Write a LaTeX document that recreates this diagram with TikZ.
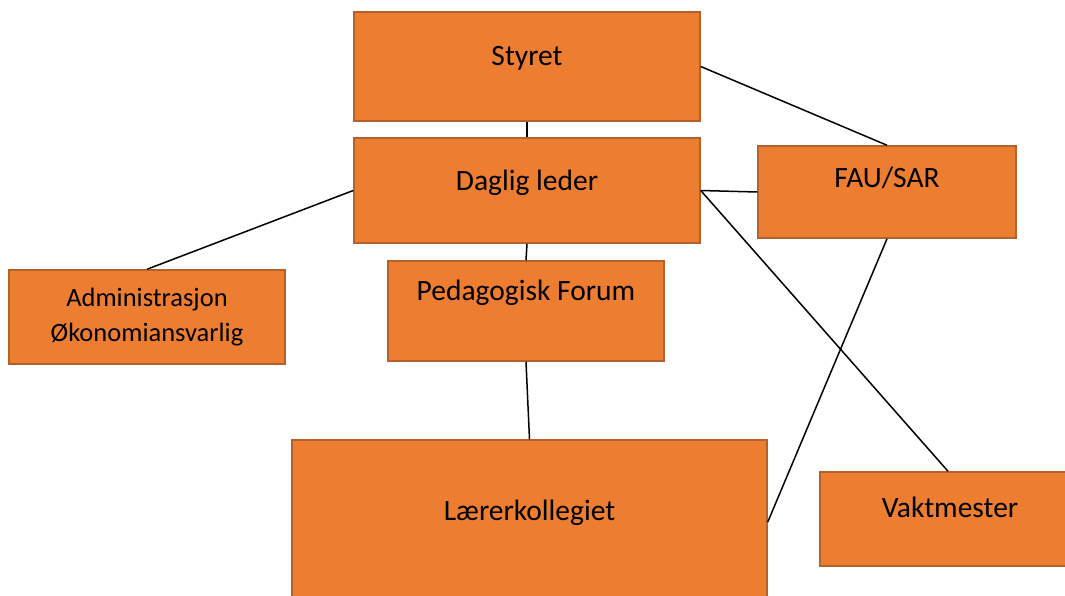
\documentclass[tikz,border=0pt]{standalone}
\usepackage{fontspec}
\setmainfont{Carlito}
\definecolor{boxfill}{HTML}{ED7D31}
\definecolor{boxline}{HTML}{B5622A}
\begin{document}
\begin{tikzpicture}[x=1pt,y=-1pt,
  orgbox/.style={draw=boxline, fill=boxfill, line width=1.5pt, rectangle, inner sep=0pt},
  orgtext/.style={font=\fontsize{29.5}{35}\selectfont, text=black, inner sep=0pt},
  conn/.style={draw=black, line width=1.5pt}]
\useasboundingbox (0,0) rectangle (1065,595);
\clip (0,0) rectangle (1065,595);
% boxes
\node[orgbox, minimum width=346pt, minimum height=109pt] (styret) at (527,66.5) {};
\node[orgbox, minimum width=346pt, minimum height=105pt] (daglig) at (527,190.5) {};
\node[orgbox, minimum width=258pt, minimum height=92pt] (fau) at (887,192) {};
\node[orgbox, minimum width=276pt, minimum height=94pt, align=center, font=\fontsize{26.5}{35}\selectfont] (admin) at (147,317) {Administrasjon\\Økonomiansvarlig};
\node[orgbox, minimum width=276pt, minimum height=100pt] (ped) at (526,311) {};
\node[orgbox, minimum width=475pt, minimum height=160pt] (laerer) at (529.5,520) {};
\node[orgbox, minimum width=266pt, minimum height=94pt] (vakt) at (953,519) {};
% texts
\node[orgtext] (tstyret) at (527,58.5) {Styret};
\node[orgtext] (tdaglig) at (527,183) {Daglig leder};
\node[orgtext] (tfau) at (887,177.5) {FAU/SAR};
\node[orgtext] (tped) at (526,293) {Pedagogisk Forum};
\node[orgtext] (tlaerer) at (529.5,512.5) {Lærerkollegiet};
\node[orgtext] (tvakt) at (950,507.5) {Vaktmester};
% connectors
\draw[conn] (styret.south) -- (daglig.north);
\draw[conn] (daglig.south) -- (ped.north);
\draw[conn] (ped.south) -- (laerer.north);
\draw[conn] (daglig.west) -- (admin.north);
\draw[conn] (styret.east) -- (fau.north);
\draw[conn] (daglig.east) -- (fau.west);
\draw[conn] (daglig.east) -- ([xshift=-5pt]vakt.north);
\draw[conn] (fau.south) -- ([yshift=-2pt]laerer.east);
\end{tikzpicture}
\end{document}
